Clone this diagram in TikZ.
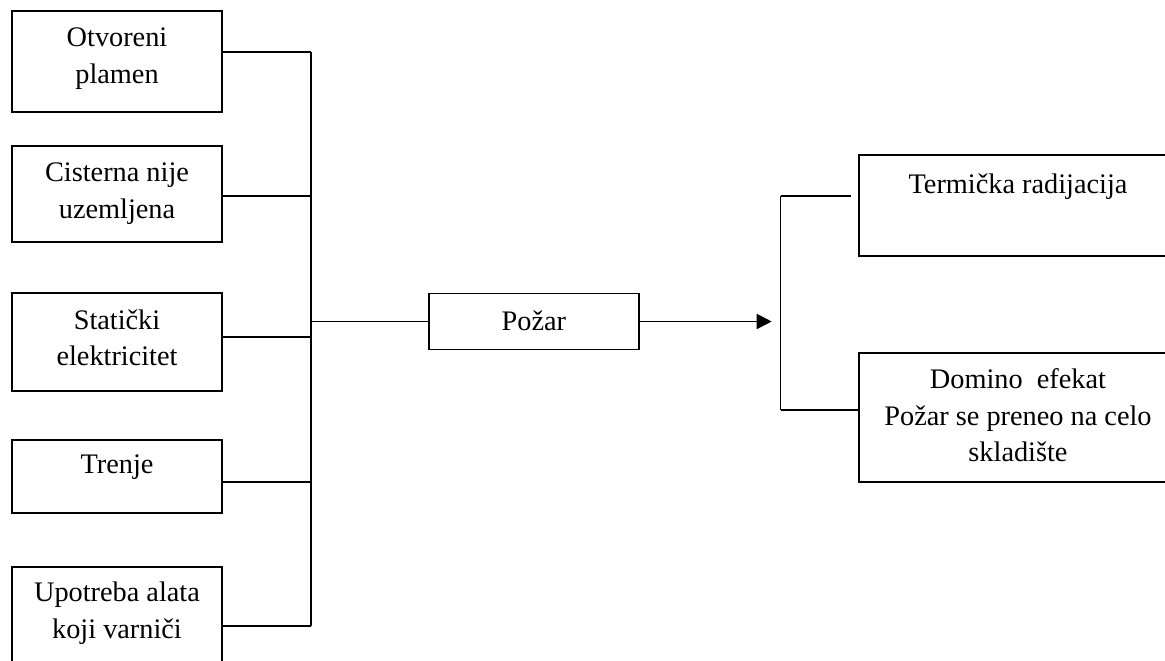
\documentclass[tikz,border=0pt]{standalone}
\usepackage{fontspec}
\setmainfont{Liberation Serif}
\usetikzlibrary{arrows.meta}
\begin{document}
\begin{tikzpicture}[x=1pt,y=-1pt,
  box/.style={draw,line width=1.8pt,rectangle,inner sep=0pt},
  txt/.style={anchor=north,inner sep=0pt,align=center,
    font=\fontsize{28.3}{36.6}\selectfont},
  wire/.style={line width=1.8pt},
  arr/.style={line width=1.8pt,-{Triangle[length=15pt,width=15pt]}}]
\useasboundingbox (0,0) rectangle (1165,661);
\clip (0,0) rectangle (1165,661);
% baseline of the first line = top of text + 25.6
\def\sl{\rule{0pt}{25.6pt}\rule[-11pt]{0pt}{11pt}}

% causes (left column)
\node[box,minimum width=210pt,minimum height=101pt] (b1) at (117,61.5) {};
\node[box,minimum width=210pt,minimum height=96pt]  (b2) at (117,194) {};
\node[box,minimum width=210pt,minimum height=98pt]  (b3) at (117,342) {};
\node[box,minimum width=210pt,minimum height=73pt]  (b4) at (117,476.5) {};
\node[box,minimum width=210pt,minimum height=120pt] (b5) at (117,627) {};

\node[txt] (t1) at (117,21.1)  {\sl Otvoreni\\\sl plamen};
\node[txt] (t2) at (117,156.1) {\sl Cisterna nije\\\sl uzemljena};
\node[txt] (t3) at (117,303.4) {\sl Statički\\\sl elektricitet};
\node[txt] (t4) at (117,447.4) {\sl Trenje};
\node[txt] (t5) at (117,576.1) {\sl Upotreba alata\\\sl koji varniči};

% collecting bus
\coordinate (bus1) at (310.7,52);
\coordinate (bus2) at (310.7,196);
\coordinate (bus3) at (310.7,336.7);
\coordinate (bus4) at (310.7,482);
\coordinate (bus5) at (310.7,625.7);
\draw[wire] (bus1) -- (bus5);
\draw[wire] (b1.east |- bus1) -- (bus1);
\draw[wire] (b2.east |- bus2) -- (bus2);
\draw[wire] (b3.east |- bus3) -- (bus3);
\draw[wire] (b4.east |- bus4) -- (bus4);
\draw[wire] (b5.east |- bus5) -- (bus5);

% central event
\node[box,minimum width=210.3pt,minimum height=56pt] (pozar) at (533.9,321.5) {};
\node[txt] (tp) at (533.9,304.4) {\sl Požar};
\draw[wire] (pozar.west -| bus1) -- (pozar.west);

% consequences
\coordinate (tip) at (771.7,321.5);
\draw[arr] (pozar.east) -- (tip);
\coordinate (c1) at (780.5,196);
\coordinate (c2) at (780.5,410);
\coordinate (c1e) at (850.7,196);
\draw[wire] (c1) -- (c2);
\draw[wire] (c1) -- (c1e);

\node[box,minimum width=318pt,minimum height=101pt] (r1) at (1018,205.5) {};
\node[box,minimum width=318pt,minimum height=128.7pt] (r2) at (1018,417.35) {};
\draw[wire] (c2) -- (r2.west |- c2);

\node[txt] (tr1) at (1018,167.4) {\sl Termička radijacija};
\node[txt] (tr2) at (1018,362.7) {\sl Domino\ \ efekat\\\sl Požar se preneo na celo\\\sl skladište};
\end{tikzpicture}
\end{document}
